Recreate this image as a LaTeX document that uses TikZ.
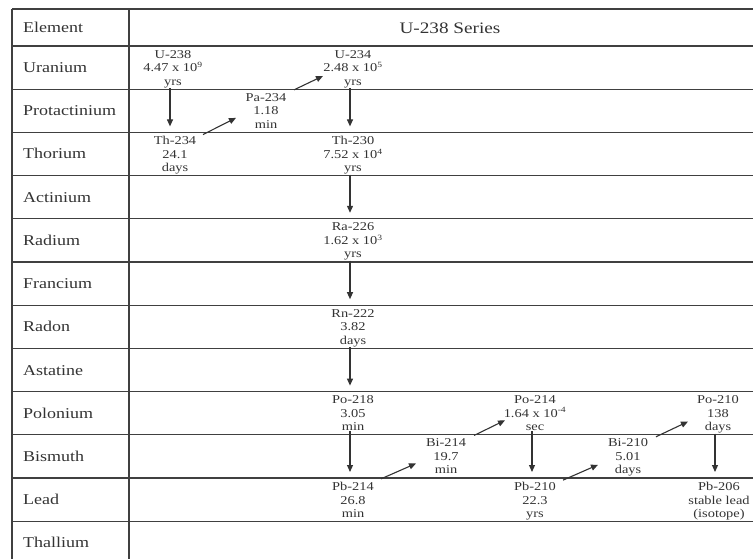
\documentclass[tikz,border=0pt]{standalone}
\usepackage{fontspec}
\setmainfont[FakeStretch=1.2]{Liberation Serif}
\usetikzlibrary{arrows.meta}
\definecolor{ink}{HTML}{333333}
\definecolor{rule}{HTML}{404040}
\tikzset{
  iso/.style={anchor=north, inner sep=0pt, align=center, text=ink,
    font=\fontsize{12}{13.5}\selectfont},
  elem/.style={anchor=base west, inner sep=0pt, text=ink,
    font=\fontsize{15}{18}\selectfont},
  head/.style={anchor=base, inner sep=0pt, text=ink,
    font=\fontsize{16}{19}\selectfont},
  gridline/.style={draw=rule, line width=1.2pt},
  decay/.style={draw=ink, line width=1.1pt, -{Triangle[length=7pt,width=6pt]}},
}
\begin{document}
\begin{tikzpicture}[x=1pt,y=-1pt]
\useasboundingbox (0,0) rectangle (753,559);
% grid
\draw[gridline] (12,9) -- (753,9);
\foreach \k in {0,...,11} {
  \draw[gridline] (12,{46+43.2*\k}) -- (753,{46+43.2*\k});
}
\draw[gridline] (12,9) -- (12,559);
\draw[gridline] (129,9) -- (129,559);
% header
\node[elem] (hElem) at (23,33) {Element};
\node[head] (hSer) at (450,34) {U-238 Series};
% element names
\foreach \n [count=\k from 0] in {Uranium,Protactinium,Thorium,Actinium,Radium,Francium,Radon,Astatine,Polonium,Bismuth,Lead,Thallium} {
  \node[elem] (e\k) at (23,{46+43.2*\k+21.6+5}) {\n};
}
% isotopes
\node[iso] (u238)  at (173,50)    {U-238\\4.47 x 10\textsuperscript{9}\\yrs};
\node[iso] (pa234) at (266,93.2)  {Pa-234\\1.18\\min};
\node[iso] (u234)  at (353,50)    {U-234\\2.48 x 10\textsuperscript{5}\\yrs};
\node[iso] (th234) at (175,136.4) {Th-234\\24.1\\days};
\node[iso] (th230) at (353,136.4) {Th-230\\7.52 x 10\textsuperscript{4}\\yrs};
\node[iso] (ra226) at (353,222.8) {Ra-226\\1.62 x 10\textsuperscript{3}\\yrs};
\node[iso] (rn222) at (353,309.2) {Rn-222\\3.82\\days};
\node[iso] (po218) at (353,395.6) {Po-218\\3.05\\min};
\node[iso] (bi214) at (446,438.8) {Bi-214\\19.7\\min};
\node[iso] (po214) at (535,395.6) {Po-214\\1.64 x 10\textsuperscript{-4}\\sec};
\node[iso] (pb214) at (353,482)   {Pb-214\\26.8\\min};
\node[iso] (pb210) at (535,482)   {Pb-210\\22.3\\yrs};
\node[iso] (bi210) at (628,438.8) {Bi-210\\5.01\\days};
\node[iso] (po210) at (718,395.6) {Po-210\\138\\days};
\node[iso] (pb206) at (719,482)   {Pb-206\\stable lead\\(isotope)};
% alpha decays (vertical)
\foreach \a/\b in {u238/th234,u234/th230,th230/ra226,ra226/rn222,rn222/po218,po218/pb214,po214/pb210,po210/pb206} {
  \draw[decay, shorten >=10pt] ([xshift=-3pt]\a.south) -- ([xshift=-3pt]\a.south |- \b.north);
}
% beta decays (diagonal)
\foreach \a/\b in {th234/pa234,pa234/u234,pb214/bi214,bi214/po214,pb210/bi210,bi210/po210} {
  \draw[decay] ([xshift=28pt,yshift=21pt]\a.center) -- ([xshift=-30pt,yshift=-7pt]\b.center);
}
\end{tikzpicture}
\end{document}
